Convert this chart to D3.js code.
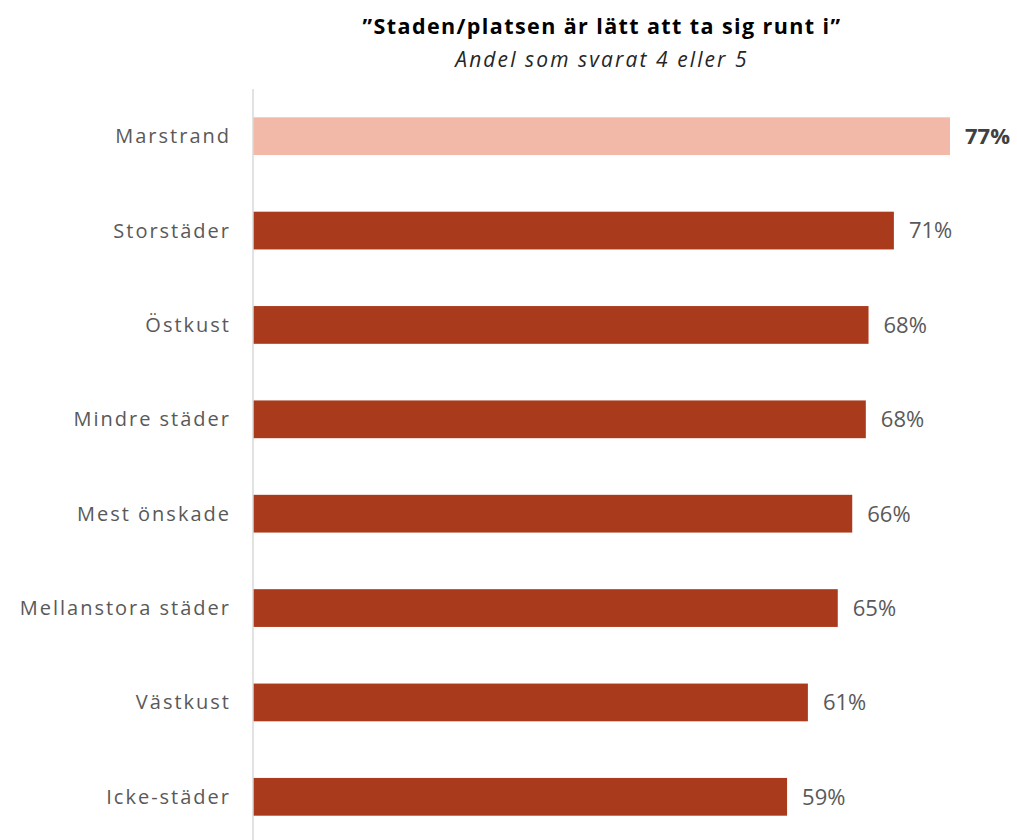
<!DOCTYPE html>
<html><head><meta charset="utf-8">
<script src="https://cdn.jsdelivr.net/npm/d3@7"></script>
<style>body{margin:0;background:#fff}svg{display:block}</style>
</head><body>
<svg id="c" width="1017" height="840"></svg>
<script>
const categories = ["Marstrand","Storstäder","Östkust","Mindre städer","Mest önskade","Mellanstora städer","Västkust","Icke-städer"];
const values = [77, 70.8, 68.0, 67.7, 66.2, 64.6, 61.3, 59.0];
const valueLabels = ["77%","71%","68%","68%","66%","65%","61%","59%"];
const highlight = ["Marstrand"];
const title = "\u201DStaden/platsen är lätt att ta sig runt i\u201D";
const subtitle = "Andel som svarat 4 eller 5";

const svg = d3.select("#c");
const font = "'Open Sans', 'DejaVu Sans', sans-serif";
const x0 = 253;
const x = d3.scaleLinear().domain([0, 77]).range([x0, 950]);
const y = d3.scaleBand().domain(categories).range([89, 844]).paddingInner(0.6).paddingOuter(0.3);

svg.append("text").attr("x", 602).attr("y", 33.5).attr("text-anchor", "middle")
  .attr("font-family", font).attr("font-weight", 700).attr("font-size", 21.5)
  .attr("letter-spacing", 1.4).attr("fill", "#000").text(title);
svg.append("text").attr("x", 602).attr("y", 66.5).attr("text-anchor", "middle")
  .attr("font-family", font).attr("font-style", "italic").attr("font-size", 21)
  .attr("letter-spacing", 2.1).attr("fill", "#262626").text(subtitle);

svg.selectAll("rect.bar").data(categories).join("rect").attr("class", "bar")
  .attr("x", x0).attr("y", d => y(d))
  .attr("width", (d, i) => x(values[i]) - x0).attr("height", y.bandwidth())
  .attr("fill", d => highlight.includes(d) ? "#F2B9A8" : "#A93A1B");

svg.append("line").attr("x1", x0).attr("x2", x0).attr("y1", 89).attr("y2", 840)
  .attr("stroke", "#d9d9d9").attr("stroke-width", 1.5);

const yAxis = d3.axisLeft(y).tickSize(0).tickPadding(22);
const ga = svg.append("g").attr("transform", `translate(${x0},0)`).call(yAxis);
ga.select(".domain").remove();
ga.selectAll("text").attr("font-family", font).attr("font-size", 20).attr("letter-spacing", 2)
  .attr("fill", "#595959").attr("dy", "0.35em");

svg.selectAll("text.val").data(categories).join("text").attr("class", "val")
  .attr("x", (d, i) => x(values[i]) + 15).attr("y", d => y(d) + y.bandwidth() / 2).attr("dy", "0.36em")
  .attr("font-family", font).attr("font-size", 22)
  .attr("font-weight", d => highlight.includes(d) ? 700 : 400)
  .attr("fill", d => highlight.includes(d) ? "#404040" : "#595959")
  .text((d, i) => valueLabels[i]);
</script>
</body></html>
